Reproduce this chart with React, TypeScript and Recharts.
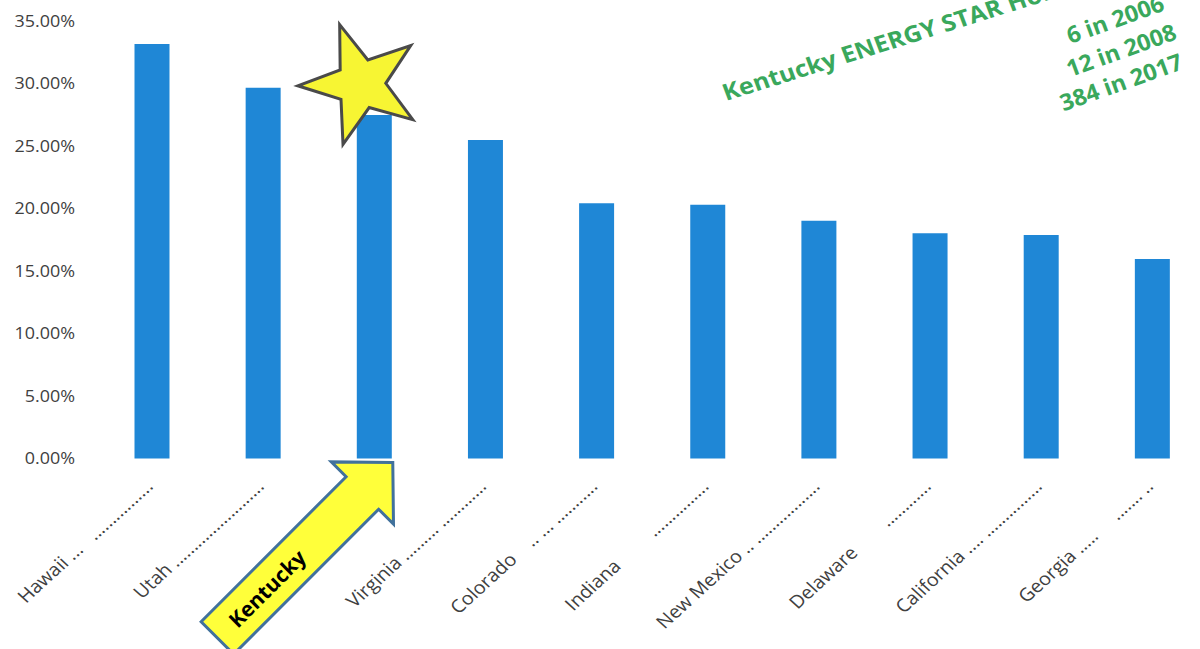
import React from "react"
import { BarChart, Bar, XAxis, YAxis, Rectangle } from "recharts"

// share of new homes
const states = ["Hawaii", "Utah", "Kentucky", "Virginia", "Colorado", "Indiana", "New Mexico", "Delaware", "California", "Georgia"]
const shares = [0.3316, 0.2966, 0.2748, 0.2548, 0.2042, 0.203, 0.1902, 0.1802, 0.1788, 0.1596]
// the original labels carry dotted leaders
const tickLabels = [
  "Hawaii ...   ................",
  "Utah ........................",
  "Kentucky",
  "Virginia ......... ............",
  "Colorado    .. ... ...........",
  "Indiana         ...............",
  "New Mexico .. .................",
  "Delaware        ............",
  "California .... ...............",
  "Georgia .....     ....... ..",
]
const yTicks = [0, 0.05, 0.1, 0.15, 0.2, 0.25, 0.3, 0.35]
const noteTitle = "Kentucky ENERGY STAR Homes:"
const noteLines = ["6 in 2006", "12 in 2008", "384 in 2017"]

const data = states.map((name, i) => ({ name, share: shares[i] }))

const FONT = "'Open Sans', sans-serif"
const STRETCH = 1.1 // the scan is a bit wider than tall
const BAR_BLUE = "#1f87d6"
const GREEN = "#3aa85c"

function starPoints(cx: number, cy: number, R: number, r: number, rot: number) {
  const pts: string[] = []
  for (let i = 0; i < 10; i++) {
    const a = ((rot + i * 36) * Math.PI) / 180
    const rad = i % 2 === 0 ? R : r
    pts.push(`${cx + rad * Math.sin(a)},${cy - rad * Math.cos(a)}`)
  }
  return pts.join(" ")
}

function BarShape(props: any) {
  const { x, y, width, height, payload } = props
  return (
    <g>
      <Rectangle x={x} y={y} width={width} height={height} fill={BAR_BLUE} />
      {payload.name === "Kentucky" && (
        <polygon
          points={starPoints(x + width / 2 - 13.5, y - 31, 63, 25, -19.6)}
          fill="#f7f533"
          stroke="#4a4a4a"
          strokeWidth={3}
        />
      )}
    </g>
  )
}

function KentuckyArrow({ x, y }: { x: number; y: number }) {
  const pts = "43,0 0,-44 0,-23 -205,-23 -205,23 0,23 0,44"
  return (
    <g transform={`translate(${x - 12} ${y + 34.5}) rotate(-45)`}>
      <polygon points={pts} fill="#ffff3a" stroke="#41719c" strokeWidth={3} />
      <text
        x={-135}
        y={0}
        textAnchor="middle"
        dominantBaseline="central"
        fontFamily={FONT}
        fontWeight="bold"
        fontSize={21}
        fill="#000"
      >
        Kentucky
      </text>
    </g>
  )
}

function StateTick(props: any) {
  const { x, y, payload, index } = props
  if (payload.value === "Kentucky") return <KentuckyArrow x={x} y={y} />
  return (
    <g transform={`translate(${x + 2} ${y + 29}) scale(${STRETCH} 1) rotate(-45)`}>
      <text textAnchor="end" fontFamily={FONT} fontSize={18} fill="#404040" style={{ whiteSpace: "pre" }}>
        {tickLabels[index]}
      </text>
    </g>
  )
}

function PctTick(props: any) {
  const { x, y, payload } = props
  return (
    <g transform={`translate(${x - 21.5} ${y}) scale(1.12 1)`}>
      <text textAnchor="end" dy="0.35em" fontFamily={FONT} fontSize={16} fill="#404040">
        {(payload.value * 100).toFixed(2) + "%"}
      </text>
    </g>
  )
}

function GreenNote() {
  const centers = [
    [1118, 27],
    [1124, 58],
    [1124, 90],
  ]
  return (
    <svg width={1200} height={649} style={{ position: "absolute", left: 0, top: 0, pointerEvents: "none" }}>
      <g fontFamily={FONT} fontWeight="bold" fontSize={23} fill={GREEN}>
        <text transform={`translate(726 101) scale(${STRETCH} 1) rotate(-19)`}>{noteTitle}</text>
        {noteLines.map((t, i) => (
          <text
            key={t}
            textAnchor="middle"
            transform={`translate(${centers[i][0]} ${centers[i][1]}) scale(1.02 1) rotate(-20)`}
          >
            {t}
          </text>
        ))}
      </g>
    </svg>
  )
}

export default function App() {
  return (
    <div style={{ position: "absolute", left: 0, top: 0, width: 1200, height: 649, overflow: "hidden", background: "#fff" }}>
      <BarChart width={1208} height={649} data={data} margin={{ top: 21, right: 0, bottom: 0, left: 0 }}>
        <XAxis
          dataKey="name"
          interval={0}
          height={190.5}
          axisLine={false}
          tickLine={false}
          tickSize={0}
          tickMargin={0}
          tick={<StateTick />}
        />
        <YAxis
          width={96.5}
          domain={[0, 0.35]}
          ticks={yTicks}
          axisLine={false}
          tickLine={false}
          tickSize={0}
          tickMargin={0}
          tick={<PctTick />}
        />
        <Bar dataKey="share" barSize={35} shape={<BarShape />} isAnimationActive={false} />
      </BarChart>
      <GreenNote />
    </div>
  )
}
